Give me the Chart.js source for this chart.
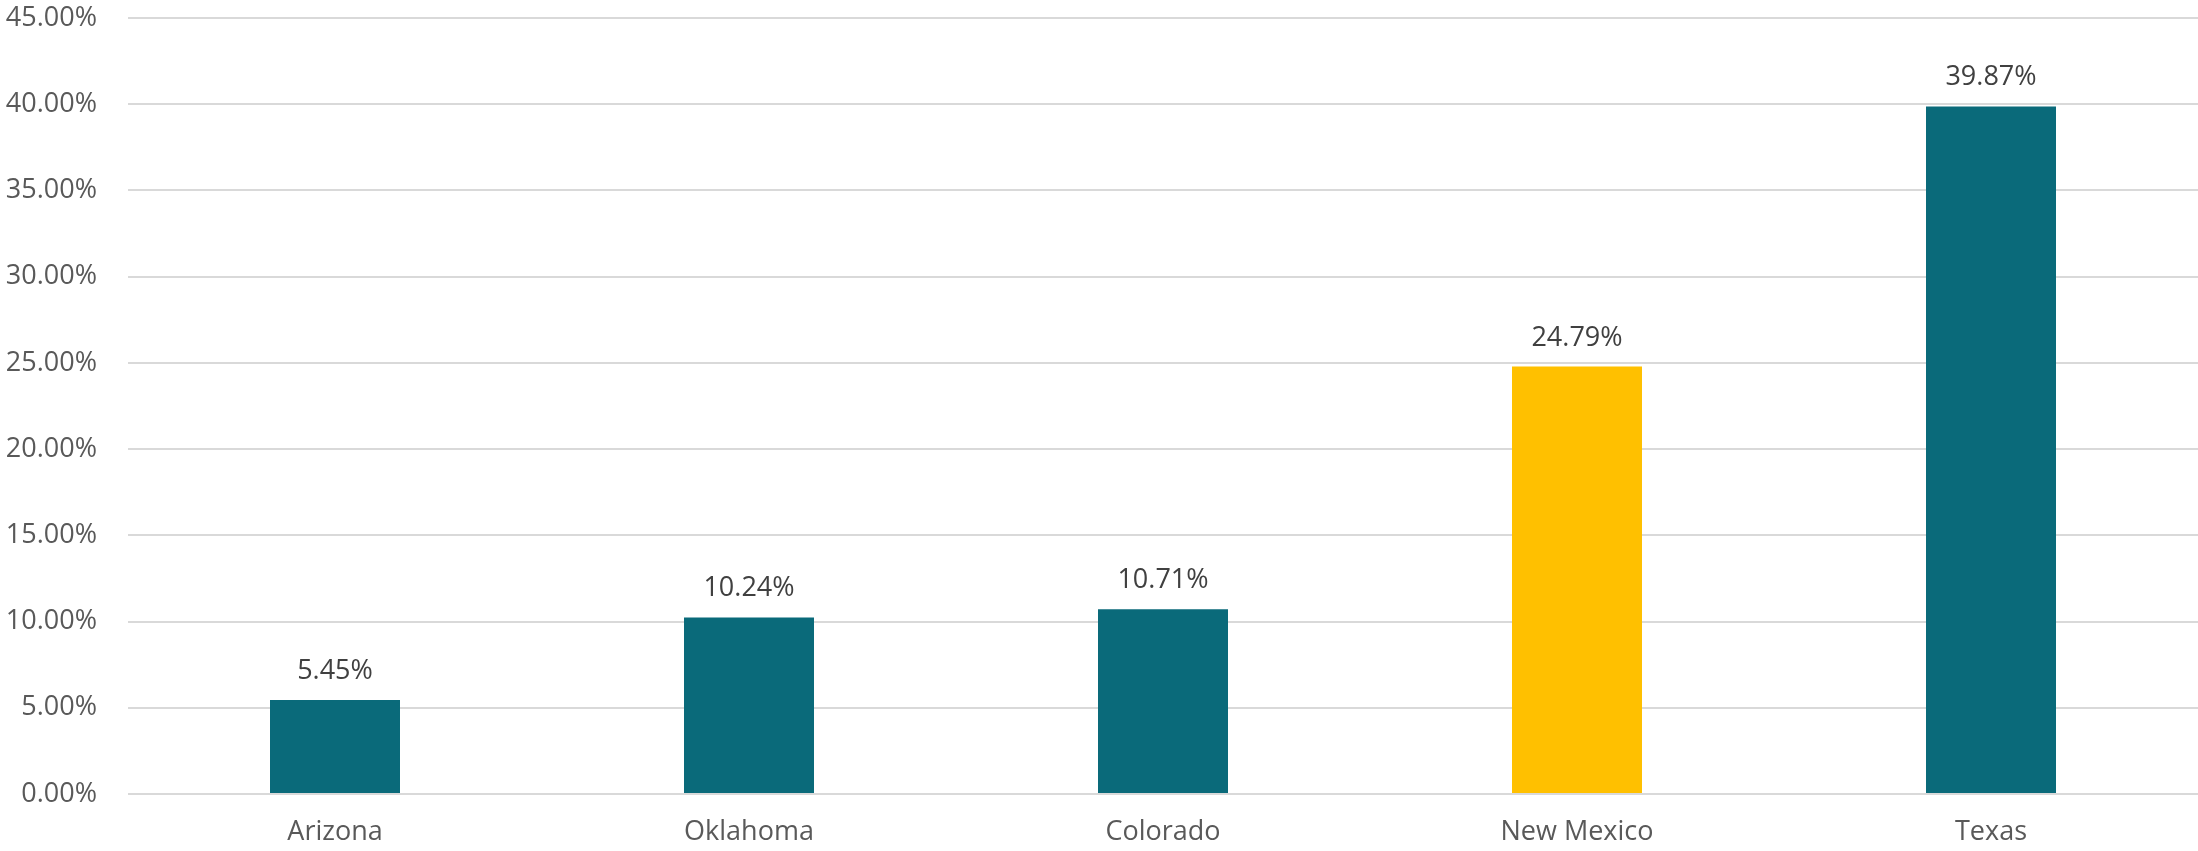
<!DOCTYPE html>
<html>
<head>
<meta charset="utf-8">
<script src="https://cdn.jsdelivr.net/npm/chart.js@4"></script>
<style>
  html, body { margin: 0; padding: 0; background: #fff; }
  #wrap { width: 2198px; height: 851px; }
</style>
</head>
<body>
<div id="wrap"><canvas id="chart" width="2198" height="851"></canvas></div>
<script>
const states = ['Arizona', 'Oklahoma', 'Colorado', 'New Mexico', 'Texas'];
const shares = [5.45, 10.24, 10.71, 24.79, 39.87];
const barColors = ['#0A6A7A', '#0A6A7A', '#0A6A7A', '#FFC000', '#0A6A7A'];

const FONT = '"Open Sans", "Noto Sans", sans-serif';

// value labels above each bar
const valueLabels = {
    id: 'valueLabels',
    afterDatasetsDraw(chart) {
        const ctx = chart.ctx;
        const meta = chart.getDatasetMeta(0);
        ctx.save();
        ctx.font = '27px ' + FONT;
        ctx.fillStyle = '#404040';
        ctx.textAlign = 'center';
        ctx.textBaseline = 'alphabetic';
        meta.data.forEach((bar, i) => {
            ctx.fillText(shares[i].toFixed(2) + '%', bar.x, bar.y - 21);
        });
        ctx.restore();
    }
};

new Chart(document.getElementById('chart'), {
    type: 'bar',
    data: {
        labels: states,
        datasets: [{
            data: shares,
            backgroundColor: barColors,
            borderWidth: 0,
            barPercentage: 0.314,
            categoryPercentage: 1
        }]
    },
    options: {
        responsive: false,
        animation: false,
        layout: { padding: { top: 18, right: 0, bottom: 0, left: 0 } },
        plugins: { legend: { display: false }, tooltip: { enabled: false } },
        scales: {
            x: {
                grid: { display: false },
                border: { display: false },
                ticks: {
                    color: '#595959',
                    font: { family: FONT, size: 27 },
                    padding: 14
                },
                afterFit(scale) { scale.height = 57; }
            },
            y: {
                min: 0,
                max: 45,
                grid: { color: '#D9D9D9', lineWidth: 2, drawTicks: false },
                border: { display: false },
                ticks: {
                    stepSize: 5,
                    color: '#595959',
                    font: { family: FONT, size: 27 },
                    padding: 31,
                    callback: v => v.toFixed(2) + '%'
                },
                afterFit(scale) {
                    scale.width = 128;
                    scale.paddingTop = 0;
                    scale.paddingBottom = 0;
                }
            }
        }
    },
    plugins: [valueLabels]
});
</script>
</body>
</html>
